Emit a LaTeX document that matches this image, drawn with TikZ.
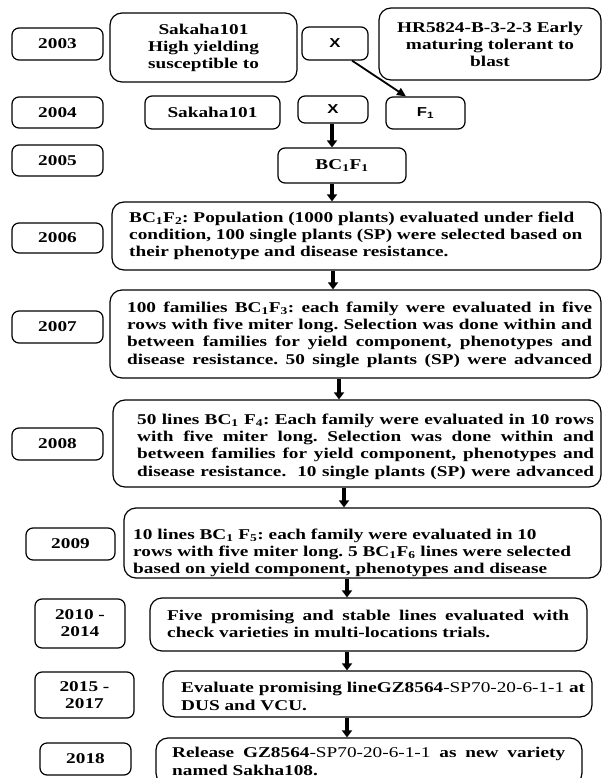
\documentclass[tikz,border=0pt]{standalone}
\usepackage{fontspec}
\setmainfont{Liberation Serif}[FakeStretch=1.29]
\newfontfamily\xsans{Liberation Sans}[FakeStretch=1.29]
\usetikzlibrary{arrows.meta,calc}
\frenchspacing
\tikzset{
  box/.style={draw, line width=1.2bp, rounded corners=7bp, inner sep=0pt,
    font=\fontsize{15}{17}\selectfont\bfseries\frenchspacing, align=center},
  frame/.style={draw, line width=1.2bp, rounded corners=12bp, inner sep=0pt},
  txt/.style={inner sep=0pt, anchor=west, align=left,
    font=\fontsize{15}{17.4}\selectfont\bfseries\frenchspacing},
  sans/.style={font=\fontsize{13}{15}\selectfont\xsans\bfseries},
  bigarrow/.style={line width=3.6bp, -{Triangle[width=10bp,length=7bp]}},
  thinarrow/.style={line width=1.8bp, -{Triangle[width=8bp,length=9bp]}},
}
\newcommand\sub[1]{\textsubscript{#1}}
\newcommand\gz{GZ8564{\mdseries -SP70-20-6-1-1}}
\begin{document}
\begin{tikzpicture}[x=1bp,y=-1bp]
\clip (0,0) rectangle (603,778);
\fill[white] (0,0) rectangle (603,778);
% year labels
\node[box, minimum width=91bp, minimum height=32bp] (y03) at (57.5,44) {2003};
\node[box, minimum width=91bp, minimum height=31bp] (y04) at (57.5,112.5) {2004};
\node[box, minimum width=91bp, minimum height=31bp] (y05) at (57.5,160.5) {2005};
\node[box, minimum width=91bp, minimum height=30bp] (y06) at (57.5,238) {2006};
\node[box, minimum width=91bp, minimum height=32bp] (y07) at (57.5,327) {2007};
\node[box, minimum width=91bp, minimum height=32bp] (y08) at (57.5,444) {2008};
\node[box, minimum width=89bp, minimum height=32bp] (y09) at (70.5,544) {2009};
\node[box, minimum width=90bp, minimum height=49bp] (y1014) at (80,623.5) {2010 -\\2014};
\node[box, minimum width=99bp, minimum height=46bp] (y1517) at (84.5,695) {2015 -\\2017};
\node[box, minimum width=91bp, minimum height=32bp] (y18) at (85.5,759) {2018};
% top rows
\node[box, rounded corners=12bp, minimum width=187bp, minimum height=69bp] (sak1) at (203.5,47.5) {Sakaha101\\High yielding\\susceptible to};
\node[box, sans, minimum width=66bp, minimum height=33bp] (x1) at (335,43.5) {X};
\node[box, rounded corners=12bp, minimum width=222bp, minimum height=72bp] (hr) at (490,44) {HR5824-B-3-2-3 Early\\maturing tolerant to\\blast};
\node[box, minimum width=135bp, minimum height=33bp] (sak2) at (212.5,112.5) {Sakaha101};
\node[box, sans, minimum width=70bp, minimum height=27bp] (x2) at (333,109.5) {X};
\node[box, sans, minimum width=79bp, minimum height=32bp] (f1) at (425.5,113) {F\sub{1}};
\node[box, minimum width=128bp, minimum height=35bp] (bc1f1) at (342,165.5) {BC\sub{1}F\sub{1}};
% big frames
\node[frame, minimum width=489bp, minimum height=68bp] (bc1f2) at (356.5,236) {};
\node[frame, minimum width=491bp, minimum height=88bp] (bc1f3) at (355.5,334) {};
\node[frame, minimum width=488bp, minimum height=87bp] (bc1f4) at (357,443.5) {};
\node[frame, minimum width=477bp, minimum height=70bp] (bc1f5) at (362.5,543) {};
\node[frame, minimum width=437bp, minimum height=53bp] (five) at (368.5,624.5) {};
\node[frame, minimum width=429bp, minimum height=46bp] (eval) at (377.5,694) {};
\node[frame, minimum width=426bp, minimum height=47bp] (rel) at (369,761.5) {};
% texts
\node[txt] (t2) at (129,236) {BC\sub{1}F\sub{2}: Population (1000 plants) evaluated under field\\condition, 100 single plants (SP) were selected based on\\their phenotype and disease resistance.};
\node[txt] (t3) at (127,334.5) {\makebox[465bp][s]{100 families BC\sub{1}F\sub{3}: each family were evaluated in five}\\\makebox[465bp][s]{rows with five miter long. Selection was done within and}\\\makebox[465bp][s]{between families for yield component, phenotypes and}\\\makebox[465bp][s]{disease resistance. 50 single plants (SP) were advanced}};
\node[txt] (t4) at (137,446.5) {\makebox[457bp][s]{50 lines BC\sub{1} F\sub{4}: Each family were evaluated in 10 rows}\\\makebox[457bp][s]{with five miter long. Selection was done within and}\\\makebox[457bp][s]{between families for yield component, phenotypes and}\\\makebox[457bp][s]{disease resistance.\ \ 10 single plants (SP) were advanced}};
\node[txt] (t5) at (133,553) {10 lines BC\sub{1} F\sub{5}: each family were evaluated in 10\\rows with five miter long. 5 BC\sub{1}F\sub{6} lines were selected\\based on yield component, phenotypes and disease};
\node[txt] (t6) at (167,624) {\makebox[402bp][s]{Five promising and stable lines evaluated with}\\check varieties in multi-locations trials.};
\node[txt] (t7) at (181,696.5) {Evaluate promising line\gz{} at\\DUS and VCU.};
\node[txt] (t8) at (172,761.5) {\makebox[393bp][s]{Release \gz{} as new variety}\\named Sakha108.};
% arrow columns
\coordinate (a1) at (332,0);
\coordinate (a2) at (333,0);
\coordinate (a3) at (339,0);
\coordinate (a4) at (344,0);
\coordinate (a5) at (347,0);
% connectors
\draw[thinarrow] ([xshift=17bp]x1.south) -- ([xshift=-19.5bp]f1.north);
\draw[bigarrow] (x2.south -| a1) -- (bc1f1.north -| a1);
\draw[bigarrow] (bc1f1.south -| a1) -- (bc1f2.north -| a1);
\draw[bigarrow] (bc1f2.south -| a2) -- (bc1f3.north -| a2);
\draw[bigarrow] (bc1f3.south -| a3) -- (bc1f4.north -| a3);
\draw[bigarrow] (bc1f4.south -| a4) -- (bc1f5.north -| a4);
\draw[bigarrow] (bc1f5.south -| a5) -- (five.north -| a5);
\draw[bigarrow] (five.south -| a5) -- (eval.north -| a5);
\draw[bigarrow] (eval.south -| a5) -- (rel.north -| a5);
\end{tikzpicture}
\end{document}
